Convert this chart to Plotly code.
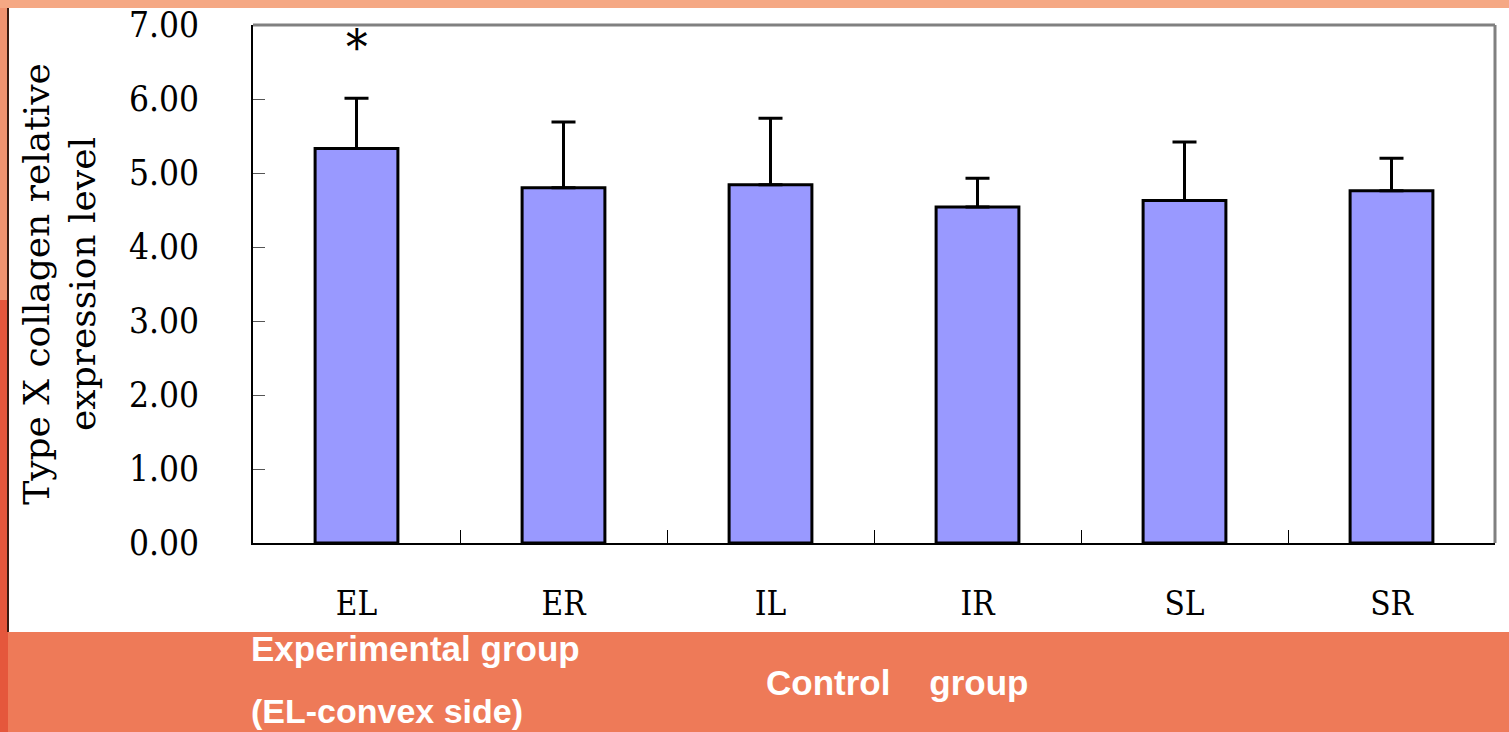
import plotly.graph_objects as go

categories = ["EL", "ER", "IL", "IR", "SL", "SR"]
means = [5.33, 4.80, 4.84, 4.54, 4.63, 4.76]
sd_upper = [0.68, 0.89, 0.90, 0.39, 0.79, 0.44]
y_ticks = [0, 1, 2, 3, 4, 5, 6, 7]
y_tick_labels = ["0.00", "1.00", "2.00", "3.00", "4.00", "5.00", "6.00", "7.00"]
y_title = "Type X collagen relative<br>expression level"
sig_label = "*"
exp_label_1 = "Experimental group"
exp_label_2 = "(EL-convex side)"
ctrl_label = "Control    group"

W, H = 1509, 732
L, R, T, B = 253, 14, 25, 189
pw, ph = W - L - R, H - T - B


def px(x):
    return (x - L) / pw


def py(y):
    return (H - B - y) / ph


fig = go.Figure()
fig.add_trace(go.Bar(
    x=categories, y=means, width=0.4,
    marker=dict(color="#9999FF", line=dict(color="black", width=3)),
    error_y=dict(type="data", array=sd_upper, arrayminus=[0] * len(means),
                 symmetric=False, color="black", thickness=3, width=12),
    showlegend=False,
))

serif = "DejaVu Serif Condensed, DejaVu Serif, serif"
sans = "Liberation Sans, Arial, sans-serif"

fig.update_layout(
    width=W, height=H,
    margin=dict(l=L, r=R, t=T, b=B, autoexpand=False),
    paper_bgcolor="#EE7A58",
    plot_bgcolor="white",
    xaxis=dict(
        type="category", range=[-0.5, 5.5], automargin=False,
        showline=True, linecolor="black", linewidth=2,
        ticks="inside", tickson="boundaries", ticklen=13, tickcolor="black", tickwidth=1,
        showgrid=False, zeroline=False,
        tickfont=dict(family=serif, size=33, color="black"),
        ticklabelstandoff=30,
    ),
    yaxis=dict(
        range=[0, 7], tickvals=y_ticks, ticktext=y_tick_labels, automargin=False,
        showline=True, linecolor="black", linewidth=2,
        ticks="inside", ticklen=12, tickcolor="#555555", tickwidth=1,
        showgrid=False, zeroline=False,
        tickfont=dict(family=serif, size=35, color="black"),
        ticklabelstandoff=45,
        title=dict(text=y_title, font=dict(family="DejaVu Serif, serif", size=36, color="black"), standoff=22),
    ),
    shapes=[
        dict(type="rect", xref="paper", yref="paper", x0=px(0), x1=px(W), y0=py(0), y1=py(8),
             fillcolor="#F5A884", line=dict(width=0), layer="below"),
        dict(type="rect", xref="paper", yref="paper", x0=px(0), x1=px(8), y0=py(300), y1=py(732),
             fillcolor="#E5573C", line=dict(width=0), layer="below"),
        dict(type="rect", xref="paper", yref="paper", x0=px(0), x1=px(8), y0=py(8), y1=py(300),
             fillcolor="#F09370", line=dict(width=0), layer="below"),
        dict(type="rect", xref="paper", yref="paper", x0=px(8), x1=px(W + 5), y0=py(8), y1=py(632),
             fillcolor="white", line=dict(width=0), layer="below"),
        dict(type="line", xref="paper", yref="paper", x0=px(8), x1=px(8), y0=py(8), y1=py(632),
             line=dict(color="#3A1A10", width=2), layer="below"),
        dict(type="line", xref="paper", yref="paper", x0=0, x1=1, y0=1, y1=1,
             line=dict(color="#808080", width=3)),
        dict(type="line", xref="paper", yref="paper", x0=1, x1=1, y0=0, y1=1,
             line=dict(color="#808080", width=3)),
    ],
    annotations=[
        dict(x=categories[0], y=6.70, xref="x", yref="y", text=sig_label, showarrow=False,
             font=dict(family=serif, size=48, color="black")),
        dict(x=px(249), y=py(648), xref="paper", yref="paper", text=exp_label_1,
             xanchor="left", yanchor="middle", showarrow=False,
             font=dict(family=sans, size=35, color="white", weight="bold")),
        dict(x=px(249), y=py(711), xref="paper", yref="paper", text=exp_label_2,
             xanchor="left", yanchor="middle", showarrow=False,
             font=dict(family=sans, size=34, color="white", weight="bold")),
        dict(x=px(764), y=py(682), xref="paper", yref="paper", text=ctrl_label,
             xanchor="left", yanchor="middle", showarrow=False,
             font=dict(family=sans, size=35, color="white", weight="bold")),
    ],
)

fig.write_html("out.html", config={"displayModeBar": False},
               post_script="document.body.style.margin='0';document.body.style.overflow='hidden';")
